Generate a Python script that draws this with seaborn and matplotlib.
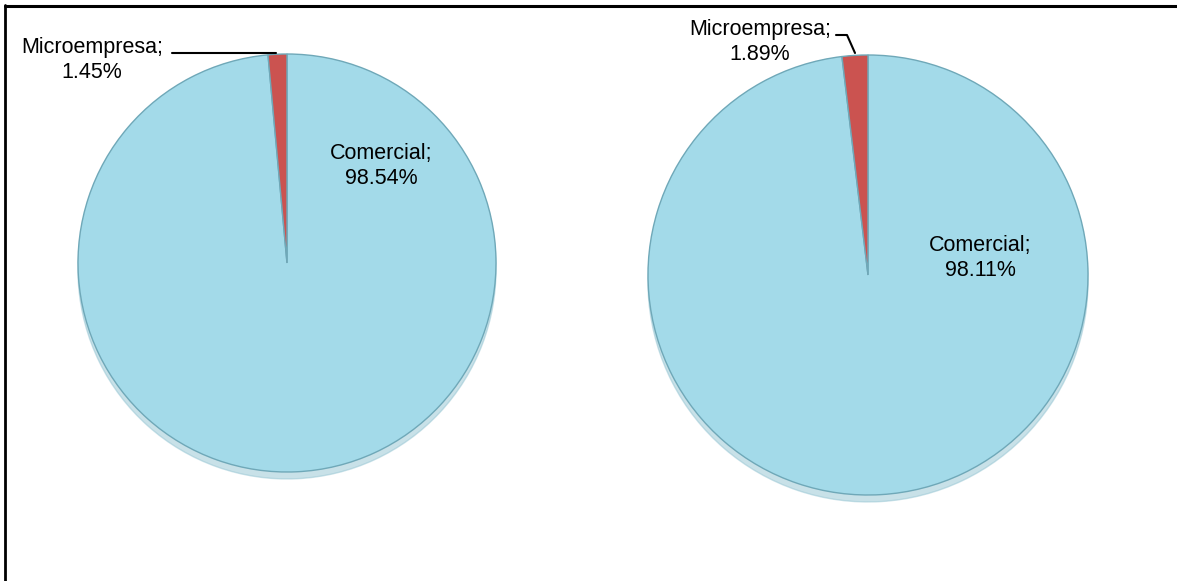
import matplotlib
matplotlib.use("Agg")
import matplotlib.pyplot as plt
import seaborn as sns
from matplotlib.lines import Line2D

sns.set_theme(style="white")
plt.rcParams['font.family'] = ['Liberation Sans', 'DejaVu Sans']
plt.rcParams['text.color'] = 'black'

categories = ["Comercial", "Microempresa"]
values_left = [98.54, 1.45]
values_right = [98.11, 1.89]
colors = ["#A3DAE9", "#CB5350"]

W, H = 1177, 581
fig = plt.figure(figsize=(W / 100, H / 100), dpi=100)
ax = fig.add_axes([0, 0, 1, 1])

def draw(vals, cx, cy, r):
    wedges, _ = ax.pie(vals, colors=colors, startangle=90, counterclock=False,
                       center=(cx, cy), radius=r, frame=True,
                       wedgeprops=dict(edgecolor="#6FA8B8", linewidth=1.0),
                       shadow=dict(ox=0, oy=-5, shade=0.1, alpha=0.5))
    return wedges

draw(values_left, 287, H - 263, 209)
draw(values_right, 868, H - 275, 220)
ax.set_xlim(0, W)
ax.set_ylim(0, H)
ax.set_aspect('equal')
ax.axis('off')

fs = 15.5
ls = 1.2
ax.text(381, H - 166, f"{categories[0]};\n{values_left[0]:.2f}%", ha='center', va='center', fontsize=fs, linespacing=ls)
ax.text(92, H - 60, f"{categories[1]};\n{values_left[1]:.2f}%", ha='center', va='center', fontsize=fs, linespacing=ls)
ax.plot([172, 276], [H - 53, H - 53], color='black', lw=1.5)

ax.text(980, H - 258, f"{categories[0]};\n{values_right[0]:.2f}%", ha='center', va='center', fontsize=fs, linespacing=ls)
ax.text(760, H - 42, f"{categories[1]};\n{values_right[1]:.2f}%", ha='center', va='center', fontsize=fs, linespacing=ls)
ax.plot([836, 847, 855], [H - 35, H - 35, H - 53], color='black', lw=1.5)

fig.add_artist(Line2D([5 / W, 5 / W], [0, 1 - 5 / H], transform=fig.transFigure, color='black', lw=2))
fig.add_artist(Line2D([5 / W, 1], [1 - 5.5 / H, 1 - 5.5 / H], transform=fig.transFigure, color='black', lw=2.2))

fig.savefig("out.png", dpi=100)
